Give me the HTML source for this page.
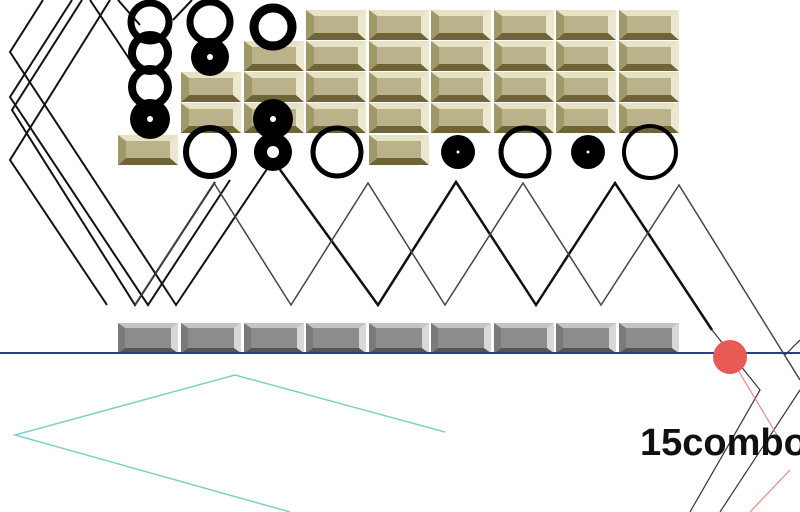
<!DOCTYPE html>
<html><head><meta charset="utf-8"><style>
html,body{margin:0;padding:0;background:#fff;width:800px;height:512px;overflow:hidden}
svg{display:block}
</style></head><body>
<svg width="800" height="512" viewBox="0 0 800 512" xmlns="http://www.w3.org/2000/svg">
<defs>
<g id="tb">
<rect x="0" y="0" width="60" height="30" fill="#e6e2c4"/>
<polygon points="0,30 60,30 52,23 8,23" fill="#6e6438"/>
<polygon points="0,0 8,6 8,23 0,30" fill="#a09868"/>
<polygon points="60,0 52,6 52,23 60,30" fill="#ece8d0"/>
<rect x="8" y="6" width="44" height="17" fill="#bab28a"/>
</g>
<g id="gb">
<rect x="0" y="0" width="60" height="30" fill="#c4c4c4"/>
<polygon points="0,30 60,30 53,25 7,25" fill="#555"/>
<polygon points="0,0 7,5 7,25 0,30" fill="#7a7a7a"/>
<polygon points="60,0 53,5 53,25 60,30" fill="#d8d8d8"/>
<rect x="7" y="5" width="46" height="20" fill="#8c8c8c"/>
</g>
</defs>
<g>
<use href="#tb" x="306" y="10"/><use href="#tb" x="369" y="10"/><use href="#tb" x="431" y="10"/><use href="#tb" x="494" y="10"/><use href="#tb" x="556" y="10"/><use href="#tb" x="619" y="10"/>
<use href="#tb" x="244" y="41"/><use href="#tb" x="306" y="41"/><use href="#tb" x="369" y="41"/><use href="#tb" x="431" y="41"/><use href="#tb" x="494" y="41"/><use href="#tb" x="556" y="41"/><use href="#tb" x="619" y="41"/>
<use href="#tb" x="181" y="72"/><use href="#tb" x="244" y="72"/><use href="#tb" x="306" y="72"/><use href="#tb" x="369" y="72"/><use href="#tb" x="431" y="72"/><use href="#tb" x="494" y="72"/><use href="#tb" x="556" y="72"/><use href="#tb" x="619" y="72"/>
<use href="#tb" x="181" y="103"/><use href="#tb" x="244" y="103"/><use href="#tb" x="306" y="103"/><use href="#tb" x="369" y="103"/><use href="#tb" x="431" y="103"/><use href="#tb" x="494" y="103"/><use href="#tb" x="556" y="103"/><use href="#tb" x="619" y="103"/>
<use href="#tb" x="118" y="135"/><use href="#tb" x="369" y="135"/>
</g>
<g>
<use href="#gb" x="118" y="323"/><use href="#gb" x="181" y="323"/><use href="#gb" x="244" y="323"/><use href="#gb" x="306" y="323"/><use href="#gb" x="369" y="323"/><use href="#gb" x="431" y="323"/><use href="#gb" x="494" y="323"/><use href="#gb" x="556" y="323"/><use href="#gb" x="619" y="323"/>
</g>
<line x1="0" y1="353" x2="800" y2="353" stroke="#2a3f8a" stroke-width="2"/>
<g fill="none" stroke="#111" stroke-width="2">
<polyline points="43,0 10,52 176,305 273,160"/>
<polyline points="72,0 10,97 148,305 230,180"/>
<polyline points="82,0 12,110 135,305 215,182"/>
<polyline points="110,0 10,160 107,305"/>
<polyline points="90,0 130,60"/>
<polyline points="118,0 140,25"/>
<polyline points="173,20 192,0"/>
</g>
<polyline points="273,160 378,305 456,182 536,305 615,183 712,330" fill="none" stroke="#111" stroke-width="2.5"/>
<polyline points="135,305 214,183 291,305 368,183 445,305 523,183 601,305 679,185 800,380" fill="none" stroke="#444" stroke-width="1.5"/>
<polyline points="712,330 760,390 690,512" fill="none" stroke="#333" stroke-width="1.2"/>
<polyline points="720,512 800,390" fill="none" stroke="#333" stroke-width="1.2"/>
<line x1="785" y1="355" x2="800" y2="340" stroke="#333" stroke-width="1.2"/>
<polyline points="738,370 780,440" fill="none" stroke="#e88" stroke-width="1.2"/>
<line x1="790" y1="470" x2="750" y2="512" stroke="#e88" stroke-width="1.2"/>
<circle cx="730" cy="357" r="17" fill="#e85a55"/>
<polyline points="445,432 235,375 15,435 290,512" fill="none" stroke="#7fd0c8" stroke-width="1.5"/>
<g fill="none" stroke="#000">
<circle cx="150" cy="22" r="19" stroke-width="7"/>
<circle cx="150" cy="53" r="18" stroke-width="8"/>
<circle cx="150" cy="87" r="18" stroke-width="8"/>
<circle cx="210" cy="22" r="20" stroke-width="7"/>
<circle cx="273" cy="27" r="19" stroke-width="9"/>
<circle cx="210" cy="152" r="24" stroke-width="6"/>
<circle cx="337" cy="152" r="24" stroke-width="5"/>
<circle cx="525" cy="152" r="24" stroke-width="5"/>
<circle cx="650" cy="152" r="26" stroke-width="4"/>
</g>
<circle cx="150" cy="119" r="20" fill="#000"/><circle cx="150" cy="119" r="3" fill="#fff"/>
<circle cx="210" cy="57" r="19" fill="#000"/><circle cx="210" cy="57" r="3" fill="#fff"/>
<circle cx="273" cy="119" r="20" fill="#000"/><circle cx="273" cy="119" r="3" fill="#fff"/>
<circle cx="273" cy="152" r="19" fill="#000"/><circle cx="273" cy="152" r="6" fill="#fff"/>
<circle cx="458" cy="152" r="17" fill="#000"/><circle cx="458" cy="152" r="1.5" fill="#fff"/>
<circle cx="588" cy="152" r="17" fill="#000"/><circle cx="588" cy="152" r="1.5" fill="#fff"/>
<text x="640" y="455" font-family="Liberation Sans, sans-serif" font-weight="bold" font-size="38" fill="#111">15combo</text>
</svg>
</body></html>
